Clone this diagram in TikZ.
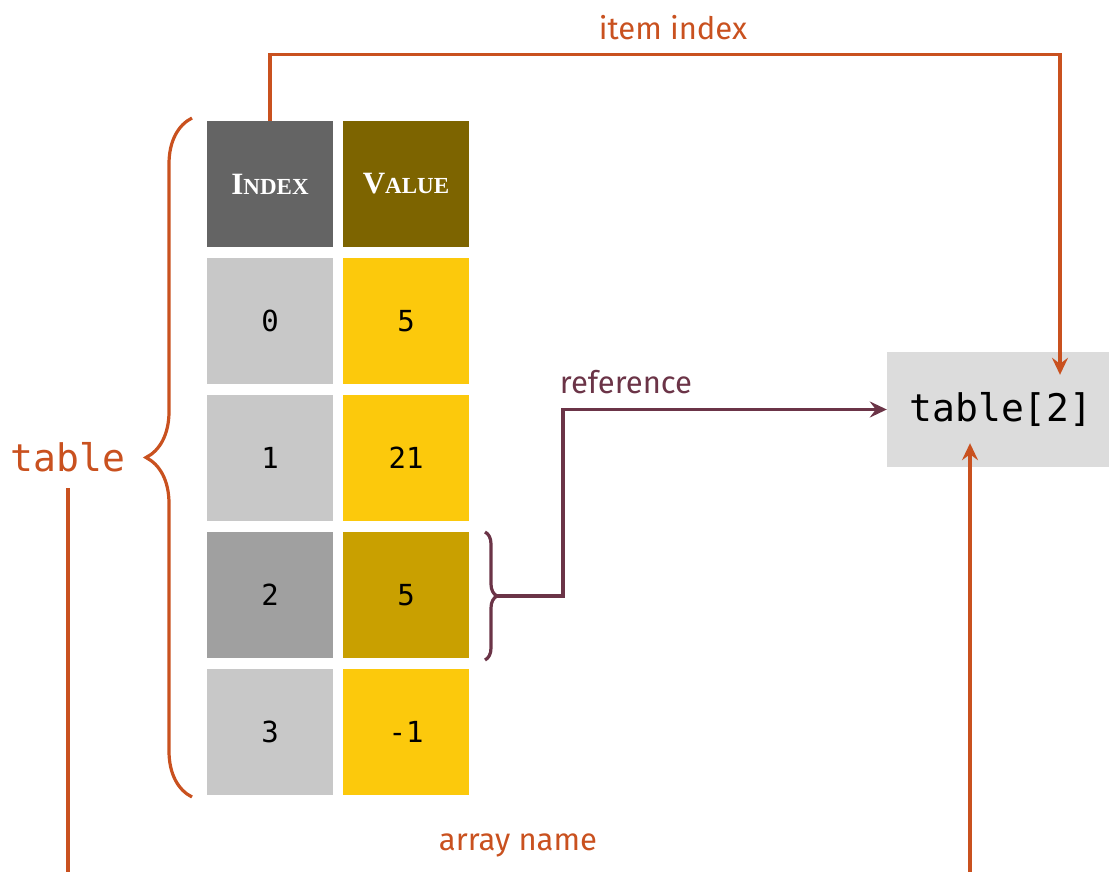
\documentclass[tikz,border=0pt]{standalone}
\usepackage{fontspec}
\setmainfont{Fira Sans}
\newfontfamily\monof{DejaVu Sans Mono}
\newfontfamily\hdrf{Liberation Serif}
\usetikzlibrary{arrows.meta,decorations.pathreplacing,calc}
\definecolor{orng}{HTML}{C9511F}
\definecolor{maroon}{HTML}{6B3447}
\definecolor{hdrI}{HTML}{646464}
\definecolor{hdrV}{HTML}{7D6400}
\definecolor{cellI}{HTML}{C8C8C8}
\definecolor{cellIh}{HTML}{A0A0A0}
\definecolor{cellV}{HTML}{FCC90C}
\definecolor{cellVh}{HTML}{C9A000}
\definecolor{boxg}{HTML}{DCDCDC}
\begin{document}
\begin{tikzpicture}[x=1pt,y=-1pt,
  cell/.style={minimum width=126pt,minimum height=126pt,inner sep=0pt,
    font=\monof\fontsize{29}{29}\selectfont},
  hdr/.style={cell,text=white,font=\hdrf\bfseries},
  olines/.style={draw=orng,line width=3.2pt},
  mlines/.style={draw=maroon,line width=3.2pt},
  tip/.style={-{Stealth[length=17pt,width=16pt,inset=6pt]}},
  lbl/.style={font=\fontsize{31}{31}\selectfont,inner sep=0pt},
]
\useasboundingbox (0,0) rectangle (1109,871);
\clip (0,0) rectangle (1109,871);

% header
\node[hdr,fill=hdrI] (hi) at (270,184) {\fontsize{31}{31}\selectfont I\fontsize{23}{23}\selectfont NDEX};
\node[hdr,fill=hdrV] (hv) at (406,184) {\fontsize{31}{31}\selectfont V\fontsize{23}{23}\selectfont ALUE};
% rows
\node[cell,fill=cellI] (i0) at (270,321) {0};
\node[cell,fill=cellV] (v0) at (406,321) {5};
\node[cell,fill=cellI] (i1) at (270,458) {1};
\node[cell,fill=cellV] (v1) at (406,458) {21};
\node[cell,fill=cellIh] (i2) at (270,595) {2};
\node[cell,fill=cellVh] (v2) at (406,595) {5};
\node[cell,fill=cellI] (i3) at (270,732) {3};
\node[cell,fill=cellV] (v3) at (406,732) {-1};

% target box
\node[fill=boxg,minimum width=222pt,minimum height=115pt,inner sep=0pt,
  font=\monof\fontsize{38}{38}\selectfont] (box) at (998,409.5) {\hspace*{6pt}table[2]};

% labels
\node[lbl,text=orng] (itemidx) at (673,28) {item index};
\node[lbl,text=maroon] (reflbl) at (626,382) {reference};
\node[lbl,text=orng] (arrname) at (518,845) {array name};
\node[inner sep=0pt,text=orng,font=\monof\fontsize{38}{38}\selectfont] (tlabel) at (68,457) {table};

% braces
\draw[olines,decorate,decoration={brace,amplitude=46pt,aspect=0.5}]
  (192,797) -- (192,118);
\draw[mlines,decorate,decoration={brace,amplitude=12pt,aspect=0.5}]
  (485,532) -- (485,660);
\coordinate (rb) at (497,596);

% connectors
\coordinate (topin) at ($(box.north)+(62,23)$);
\coordinate (botin) at ($(box.south)+(-28,-24)$);
\draw[olines,tip] (hi.north) -- ++(0,-66) -| (topin);
\draw[mlines,tip] (rb) -- ++(66,0) |- (box.west);
\draw[olines,tip] ([yshift=-16pt]tlabel.south) -- (68,900) -| (botin);
\end{tikzpicture}
\end{document}
